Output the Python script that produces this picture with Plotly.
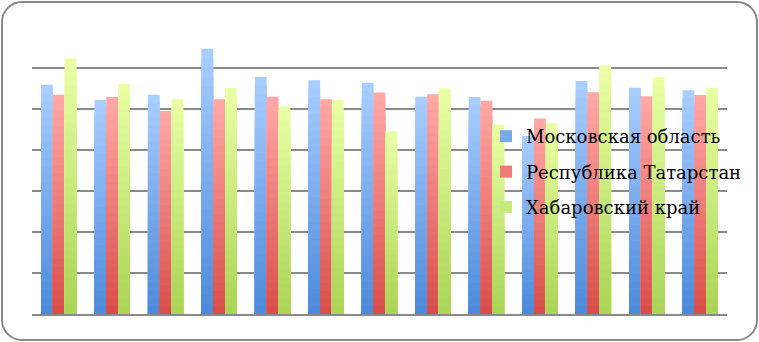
import plotly.graph_objects as go

categories = [str(i) for i in range(1, 14)]
series_names = ["Московская область", "Республика Татарстан", "Хабаровский край"]
moscow = [55.9, 52.2, 53.5, 64.7, 57.8, 57.0, 56.4, 53.0, 52.9, 43.4, 56.8, 55.2, 54.6]
tatarstan = [53.5, 52.9, 49.5, 52.4, 53.0, 52.4, 54.0, 53.6, 52.0, 47.7, 54.1, 53.1, 53.4]
khabarovsk = [62.3, 56.1, 52.4, 55.1, 50.7, 52.2, 44.6, 55.0, 46.2, 46.5, 60.6, 57.8, 55.2]
y_ticks = [0, 10, 20, 30, 40, 50, 60, 70]

series_values = [moscow, tatarstan, khabarovsk]
# (bottom colour, top colour)
gradients = [((74, 136, 218), (168, 205, 255)),
             ((217, 75, 71), (255, 168, 166)),
             ((169, 211, 83), (232, 255, 164))]

W, H = 759, 342
L, R, T, B = 32, 32, 27, 28
PW, PH = W - L - R, H - T - B


def px(x):
    return (x - L) / PW


def py(y):
    return (H - B - y) / PH


def mix(c0, c1, t):
    return "rgb(%d,%d,%d)" % tuple(round(a + (b - a) * t) for a, b in zip(c0, c1))


N = 28
fig = go.Figure()
for name, vals, (cb, ct) in zip(series_names, series_values, gradients):
    for k in range(N):
        frac = (N - k) / N
        fig.add_trace(go.Bar(
            x=categories,
            y=[v * frac for v in vals],
            name=name,
            offsetgroup=name,
            legendgroup=name,
            showlegend=(k == N // 2),
            marker=dict(color=mix(cb, ct, frac), line=dict(width=0)),
            hoverinfo="skip",
        ))

# rounded chart border
x0, x1, y0, y1, r = 2, 757, 2, 340, 20
kk = 0.5523 * r
path = (
    f"M {px(x0 + r)},{py(y0)} L {px(x1 - r)},{py(y0)} "
    f"C {px(x1 - r + kk)},{py(y0)} {px(x1)},{py(y0 + r - kk)} {px(x1)},{py(y0 + r)} "
    f"L {px(x1)},{py(y1 - r)} "
    f"C {px(x1)},{py(y1 - r + kk)} {px(x1 - r + kk)},{py(y1)} {px(x1 - r)},{py(y1)} "
    f"L {px(x0 + r)},{py(y1)} "
    f"C {px(x0 + r - kk)},{py(y1)} {px(x0)},{py(y1 - r + kk)} {px(x0)},{py(y1 - r)} "
    f"L {px(x0)},{py(y0 + r)} "
    f"C {px(x0)},{py(y0 + r - kk)} {px(x0 + r - kk)},{py(y0)} {px(x0 + r)},{py(y0)} Z"
)

fig.update_layout(
    width=W, height=H,
    margin=dict(l=L, r=R, t=T, b=B, pad=0, autoexpand=False),
    paper_bgcolor="white", plot_bgcolor="white",
    barmode="group", bargap=0.338, bargroupgap=0,
    showlegend=True,
    legend=dict(
        x=px(486), y=py(118), xanchor="left", yanchor="top",
        bgcolor="rgba(0,0,0,0)",
        font=dict(family="DejaVu Serif", size=18, color="black"),
        traceorder="grouped", tracegroupgap=9, itemwidth=30,
    ),
    xaxis=dict(showticklabels=False, showgrid=False, zeroline=False,
               showline=True, linecolor="#8a8a8a", linewidth=2, ticks=""),
    yaxis=dict(range=[0, 70], tickvals=y_ticks, showticklabels=False,
               showgrid=True, gridcolor="#8a8a8a", gridwidth=2,
               zeroline=False, showline=False, ticks=""),
    shapes=[dict(type="path", path=path, xref="paper", yref="paper",
                 line=dict(color="#888888", width=2), layer="above")],
)

fig.write_html("out.html")
